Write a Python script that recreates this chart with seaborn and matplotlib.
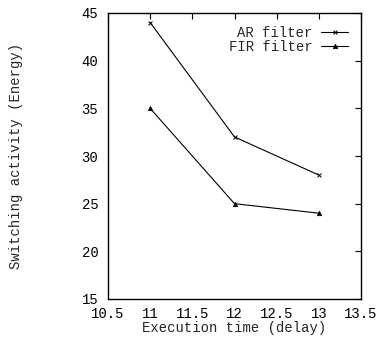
import matplotlib
matplotlib.use("Agg")
import matplotlib.pyplot as plt
import seaborn as sns

delay = [11, 12, 13]
ar_filter = [44, 32, 28]
fir_filter = [35, 25, 24]
series_names = ["AR filter", "FIR filter"]
xticks = [10.5, 11, 11.5, 12, 12.5, 13, 13.5]
yticks = [15, 20, 25, 30, 35, 40, 45]

sns.set_style("white")
plt.rcParams["font.family"] = ["Liberation Mono", "DejaVu Sans Mono"]
plt.rcParams["font.size"] = 10

fig = plt.figure(figsize=(3.78, 3.37), dpi=100)
ax = fig.add_axes([108/378, 1 - 299/337, (361-108)/378, (299-13)/337])

sns.lineplot(x=delay, y=ar_filter, color="black", marker="x", linewidth=0.8,
             markersize=3.5, markeredgewidth=0.7, markeredgecolor="black",
             label=series_names[0], ax=ax)
sns.lineplot(x=delay, y=fir_filter, color="black", marker="^", linewidth=0.8,
             markersize=3.2, markeredgewidth=0.5, markeredgecolor="black",
             label=series_names[1], ax=ax)

ax.set_xlim(10.5, 13.5)
ax.set_ylim(15, 45)
ax.set_xticks(xticks)
ax.set_xticklabels([f"{t:g}" for t in xticks])
ax.set_yticks(yticks)
ax.tick_params(direction="in", top=True, right=True, length=4, width=0.8,
               labelsize=10, colors="black")
ax.tick_params(axis="y", pad=7)
ax.tick_params(axis="x", pad=6)
for s in ax.spines.values():
    s.set_color("black")
    s.set_linewidth(1.0)
ax.set_xlabel("Execution time (delay)", fontsize=10, labelpad=0)
ax.set_ylabel("Switching activity (Energy)", fontsize=10, labelpad=42)
ax.legend(title=None, frameon=False, loc="upper right", markerfirst=False,
          fontsize=10, handlelength=2.0, handletextpad=0.6, borderaxespad=0.5,
          labelspacing=0.0, borderpad=0.4)

fig.savefig("out.png", dpi=100)
